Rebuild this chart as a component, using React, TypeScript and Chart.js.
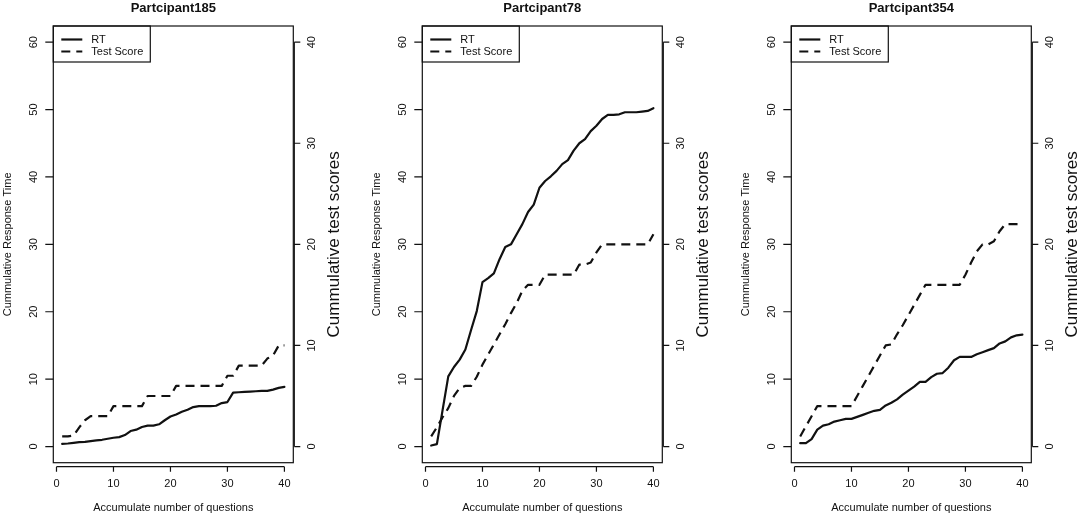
import { useEffect, useRef } from 'react';
import { Chart, registerables } from 'chart.js';

Chart.register(...registerables);

// question index (x axis)
const questions = [
  1, 2, 3, 4, 5, 6, 7, 8, 9, 10, 11, 12, 13, 14, 15, 16, 17, 18, 19, 20,
  21, 22, 23, 24, 25, 26, 27, 28, 29, 30, 31, 32, 33, 34, 35, 36, 37, 38, 39, 40,
];

const panelTitles = ['Partcipant185', 'Partcipant78', 'Partcipant354'];

// cumulative response time (left axis)
const rt185 = [
  0.4, 0.45, 0.55, 0.65, 0.7, 0.8, 0.9, 1.0, 1.15, 1.3, 1.4, 1.7, 2.3, 2.5, 2.9, 3.1, 3.1, 3.3, 3.9, 4.45,
  4.75, 5.15, 5.45, 5.85, 6.0, 6.0, 6.0, 6.05, 6.45, 6.6, 8.0, 8.05, 8.1, 8.15, 8.2, 8.25, 8.25, 8.45, 8.7, 8.85,
];
const rt78 = [
  0.15, 0.35, 5.4, 10.4, 11.8, 12.9, 14.4, 17.3, 20.1, 24.4, 25.0, 25.7, 27.8, 29.6, 30.0, 31.5, 33.0, 34.8, 35.9, 38.4,
  39.4, 40.1, 40.9, 41.9, 42.5, 43.9, 45.0, 45.6, 46.8, 47.6, 48.6, 49.2, 49.2, 49.3, 49.6, 49.6, 49.6, 49.7, 49.8, 50.2,
];
const rt354 = [
  0.5, 0.5, 1.1, 2.5, 3.1, 3.3, 3.7, 3.9, 4.1, 4.1, 4.4, 4.7, 5.0, 5.3, 5.45, 6.1, 6.5, 7.0, 7.7, 8.3,
  8.9, 9.6, 9.6, 10.3, 10.8, 10.9, 11.7, 12.8, 13.3, 13.3, 13.3, 13.7, 14.0, 14.3, 14.6, 15.3, 15.6, 16.2, 16.5, 16.6,
];

// cumulative test scores (right axis)
const score185 = [
  1, 1, 1.1, 1.9, 2.6, 3, 3, 3, 3, 4, 4, 4, 4, 4, 4, 5, 5, 5, 5, 5,
  6, 6, 6, 6, 6, 6, 6, 6, 6, 7, 7, 8, 8, 8, 8, 8, 8.7, 9, 10, 10,
];
const score78 = [
  1, 1.9, 2.9, 3.8, 5, 5.8, 6, 6, 6.9, 8.1, 9.1, 10.1, 11.1, 12.1, 13.2, 14.2, 15.4, 16, 16, 16,
  17, 17, 17, 17, 17, 17, 18, 18, 18.2, 19.2, 20, 20, 20, 20, 20, 20, 20, 20, 20, 21,
];
const score354 = [
  1, 2, 3, 4, 4, 4, 4, 4, 4, 4, 5, 6, 7, 8, 9, 10, 10.1, 11.1, 12, 13,
  14, 15, 16, 16, 16, 16, 16, 16, 16, 17, 18.2, 19.3, 20, 20, 20.3, 21.3, 22, 22, 22, 22,
];

const rtSeries = [rt185, rt78, rt354];
const scoreSeries = [score185, score78, score354];

const leftTicks = [0, 10, 20, 30, 40, 50, 60];
const rightTicks = [0, 10, 20, 30, 40];
const xTicks = [0, 10, 20, 30, 40];

const panelLeft = [0, 369, 738];
const PANEL_W = 369;
const PANEL_H = 517;
const FONT = '"Liberation Sans", Arial, sans-serif';
const INK = '#111';

// R-style box, axes, legend and axis titles
const rFramePlugin = {
  id: 'rFrame',
  afterDraw(chart: any) {
    const { ctx, chartArea: a, scales } = chart;
    const xs = scales.x;
    const yl = scales.y;
    const yr = scales.y2;
    ctx.save();
    ctx.strokeStyle = INK;
    ctx.fillStyle = INK;
    ctx.lineWidth = 1.2;
    ctx.setLineDash([]);

    // plot box
    ctx.strokeRect(a.left, a.top, a.right - a.left, a.bottom - a.top);

    ctx.font = `11px ${FONT}`;
    ctx.textAlign = 'center';
    ctx.textBaseline = 'middle';

    // left axis
    ctx.beginPath();
    leftTicks.forEach((v) => {
      const py = yl.getPixelForValue(v);
      ctx.moveTo(a.left, py);
      ctx.lineTo(a.left - 8, py);
    });
    ctx.stroke();
    leftTicks.forEach((v) => {
      const py = yl.getPixelForValue(v);
      ctx.save();
      ctx.translate(a.left - 19.5, py);
      ctx.rotate(-Math.PI / 2);
      ctx.fillText(String(v), 0, 0);
      ctx.restore();
    });

    // right axis
    ctx.beginPath();
    ctx.moveTo(a.right + 1, yr.getPixelForValue(rightTicks[0]));
    ctx.lineTo(a.right + 1, yr.getPixelForValue(rightTicks[rightTicks.length - 1]));
    rightTicks.forEach((v) => {
      const py = yr.getPixelForValue(v);
      ctx.moveTo(a.right + 1, py);
      ctx.lineTo(a.right + 7, py);
    });
    ctx.stroke();
    rightTicks.forEach((v) => {
      const py = yr.getPixelForValue(v);
      ctx.save();
      ctx.translate(a.right + 19, py);
      ctx.rotate(-Math.PI / 2);
      ctx.fillText(String(v), 0, 0);
      ctx.restore();
    });

    // x axis, a little below the box
    const ax = a.bottom + 4;
    ctx.beginPath();
    ctx.moveTo(xs.getPixelForValue(xTicks[0]), ax);
    ctx.lineTo(xs.getPixelForValue(xTicks[xTicks.length - 1]), ax);
    xTicks.forEach((v) => {
      const px = xs.getPixelForValue(v);
      ctx.moveTo(px, ax);
      ctx.lineTo(px, ax + 5);
    });
    ctx.stroke();
    xTicks.forEach((v) => {
      ctx.fillText(String(v), xs.getPixelForValue(v), a.bottom + 21.5);
    });

    // axis titles
    const midX = (a.left + a.right) / 2;
    const midY = (a.top + a.bottom) / 2;
    ctx.fillText('Accumulate number of questions', midX, a.bottom + 45.5);

    ctx.save();
    ctx.translate(8, midY);
    ctx.rotate(-Math.PI / 2);
    ctx.fillText('Cummulative Response Time', 0, 0);
    ctx.restore();

    ctx.save();
    ctx.font = `17px ${FONT}`;
    ctx.translate(a.right + 41, midY);
    ctx.rotate(-Math.PI / 2);
    ctx.fillText('Cummulative test scores', 0, 0);
    ctx.restore();

    // legend box, top left inside the plot
    const lx = a.left;
    const ly = a.top;
    ctx.lineWidth = 1.2;
    ctx.strokeRect(lx, ly, 97, 36);
    ctx.lineWidth = 2.2;
    ctx.beginPath();
    ctx.moveTo(lx + 8, ly + 13.5);
    ctx.lineTo(lx + 29, ly + 13.5);
    ctx.stroke();
    ctx.setLineDash([9, 6]);
    ctx.beginPath();
    ctx.moveTo(lx + 8, ly + 25.5);
    ctx.lineTo(lx + 29, ly + 25.5);
    ctx.stroke();
    ctx.setLineDash([]);
    ctx.textAlign = 'left';
    ctx.font = `11px ${FONT}`;
    ctx.fillText('RT', lx + 38, ly + 14);
    ctx.fillText('Test Score', lx + 38, ly + 26);

    ctx.restore();
  },
};

interface PanelProps {
  title: string;
  rt: number[];
  score: number[];
  left: number;
}

function ParticipantPanel({ title, rt, score, left }: PanelProps) {
  const canvasRef = useRef<HTMLCanvasElement>(null);

  useEffect(() => {
    if (!canvasRef.current) return;
    const chart = new Chart(canvasRef.current, {
      type: 'line',
      data: {
        datasets: [
          {
            label: 'RT',
            data: questions.map((q, i) => ({ x: q, y: rt[i] })),
            yAxisID: 'y',
            borderColor: INK,
            borderWidth: 2.2,
            borderJoinStyle: 'round',
            borderCapStyle: 'round',
            pointRadius: 0,
            tension: 0,
          },
          {
            label: 'Test Score',
            data: questions.map((q, i) => ({ x: q, y: score[i] })),
            yAxisID: 'y2',
            borderColor: INK,
            borderWidth: 2.2,
            borderDash: [9, 6],
            borderJoinStyle: 'round',
            pointRadius: 0,
            tension: 0,
          },
        ],
      },
      options: {
        responsive: false,
        animation: false,
        events: [],
        layout: {
          autoPadding: false,
          padding: { left: 53.3, right: PANEL_W - 293.3, top: 0, bottom: PANEL_H - 462.7 },
        },
        scales: {
          x: { type: 'linear', display: false, min: -0.56, max: 41.56 },
          y: { type: 'linear', display: false, min: -2.4, max: 62.4 },
          y2: { type: 'linear', display: false, min: -1.6, max: 41.6, position: 'right' },
        },
        plugins: {
          legend: { display: false },
          tooltip: { enabled: false },
          title: {
            display: true,
            text: title,
            color: INK,
            font: { family: FONT, size: 13, weight: 'bold' },
            padding: { top: 0.5, bottom: 9.9 },
          },
        },
      },
      plugins: [rFramePlugin],
    } as any);

    return () => {
      chart.destroy();
    };
  }, [title, rt, score]);

  return (
    <div style={{ position: 'absolute', left, top: 0, width: PANEL_W, height: PANEL_H }}>
      <canvas ref={canvasRef} width={PANEL_W} height={PANEL_H} style={{ display: 'block' }} />
    </div>
  );
}

export default function App() {
  return (
    <div
      style={{
        position: 'fixed',
        left: 0,
        top: 0,
        width: 1084,
        height: 517,
        overflow: 'hidden',
        background: '#fff',
      }}
    >
      {panelTitles.map((t, i) => (
        <ParticipantPanel key={t} title={t} rt={rtSeries[i]} score={scoreSeries[i]} left={panelLeft[i]} />
      ))}
    </div>
  );
}
